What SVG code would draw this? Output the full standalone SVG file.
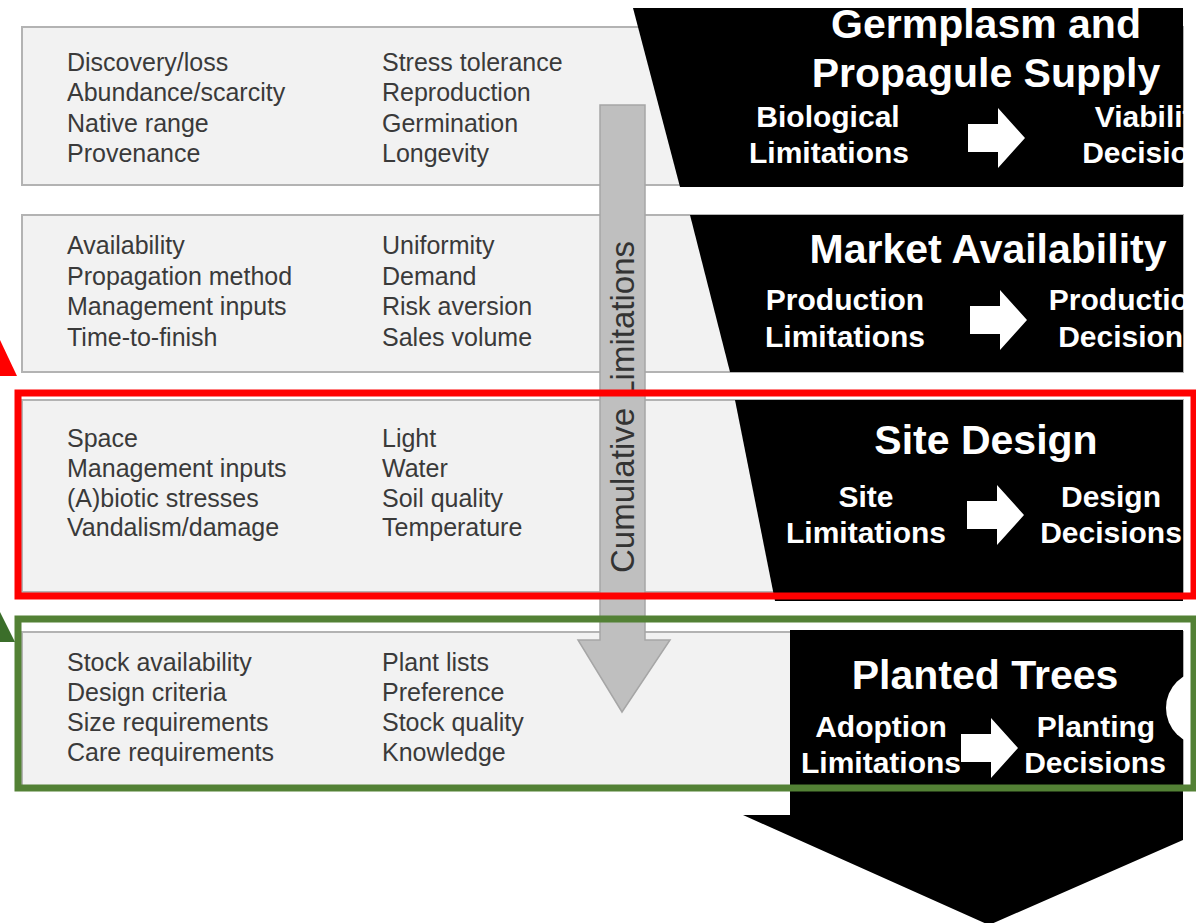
<svg xmlns="http://www.w3.org/2000/svg" width="1196" height="923" viewBox="0 0 1196 923">
  <style>
    .box { fill: #f2f2f2; stroke: #b3b3b3; stroke-width: 2; }
    .blk { fill: #000000; }
    .lst { font-family: "Liberation Sans", Arial, sans-serif; font-size: 25px; fill: #3a3a3a; }
    .ttl { font-family: "Liberation Sans", Arial, sans-serif; font-size: 41px; font-weight: bold; fill: #ffffff; text-anchor: middle; }
    .sub { font-family: "Liberation Sans", Arial, sans-serif; font-size: 30px; font-weight: bold; fill: #ffffff; text-anchor: middle; }
    .cum { font-family: "Liberation Sans", Arial, sans-serif; font-size: 33px; fill: #333333; text-anchor: middle; }
    .warr { fill: #ffffff; }
  </style>
  <defs>
    <path id="wa" d="M0,-14 H30 V-30 L57,0 L30,30 V14 H0 Z"/>
  </defs>
  <rect x="0" y="0" width="1196" height="923" fill="#ffffff"/>

  <g id="row1">
    <rect class="box" x="22" y="27" width="1161" height="158"/>
    <polygon class="blk" points="633,8 1183,8 1183,187 680,187"/>
    <g class="lst">
      <text x="67" y="71">Discovery/loss</text>
      <text x="67" y="101">Abundance/scarcity</text>
      <text x="67" y="132">Native range</text>
      <text x="67" y="162">Provenance</text>
      <text x="382" y="71">Stress tolerance</text>
      <text x="382" y="101">Reproduction</text>
      <text x="382" y="132">Germination</text>
      <text x="382" y="162">Longevity</text>
    </g>
    <text class="ttl" x="986" y="38">Germplasm and</text>
    <text class="ttl" x="986" y="87">Propagule Supply</text>
    <text class="sub" x="828" y="127">Biological</text>
    <text class="sub" x="829" y="163">Limitations</text>
    <use href="#wa" class="warr" x="968" y="138"/>
    <text class="sub" x="1152" y="127">Viability</text>
    <text class="sub" x="1153" y="163">Decisions</text>
  </g>

  <g id="row2">
    <rect class="box" x="22" y="215" width="1161" height="157"/>
    <polygon class="blk" points="690,215 1183,215 1183,372 730,372"/>
    <g class="lst">
      <text x="67" y="254">Availability</text>
      <text x="67" y="285">Propagation method</text>
      <text x="67" y="315">Management inputs</text>
      <text x="67" y="346">Time-to-finish</text>
      <text x="382" y="254">Uniformity</text>
      <text x="382" y="285">Demand</text>
      <text x="382" y="315">Risk aversion</text>
      <text x="382" y="346">Sales volume</text>
    </g>
    <text class="ttl" x="988" y="263">Market Availability</text>
    <text class="sub" x="845" y="310">Production</text>
    <text class="sub" x="845" y="347">Limitations</text>
    <use href="#wa" class="warr" x="970" y="320"/>
    <text class="sub" x="1128" y="310">Production</text>
    <text class="sub" x="1129" y="347">Decisions</text>
  </g>

  <g id="row3">
    <rect class="box" x="22" y="400" width="1161" height="192"/>
    <polygon class="blk" points="735,400 1183,400 1183,601 775,601"/>
    <g class="lst">
      <text x="67" y="447">Space</text>
      <text x="67" y="477">Management inputs</text>
      <text x="67" y="507">(A)biotic stresses</text>
      <text x="67" y="536">Vandalism/damage</text>
      <text x="382" y="447">Light</text>
      <text x="382" y="477">Water</text>
      <text x="382" y="507">Soil quality</text>
      <text x="382" y="536">Temperature</text>
    </g>
    <text class="ttl" x="986" y="454">Site Design</text>
    <text class="sub" x="866" y="507">Site</text>
    <text class="sub" x="866" y="543">Limitations</text>
    <use href="#wa" class="warr" x="967" y="515"/>
    <text class="sub" x="1111" y="507">Design</text>
    <text class="sub" x="1111" y="543">Decisions</text>
  </g>

  <g id="row4">
    <rect class="box" x="22" y="632" width="1161" height="158"/>
    <polygon class="blk" points="790,630 1183,630 1183,840 989,925 743,815 790,815"/>
    <g class="lst">
      <text x="67" y="671">Stock availability</text>
      <text x="67" y="701">Design criteria</text>
      <text x="67" y="731">Size requirements</text>
      <text x="67" y="761">Care requirements</text>
      <text x="382" y="671">Plant lists</text>
      <text x="382" y="701">Preference</text>
      <text x="382" y="731">Stock quality</text>
      <text x="382" y="761">Knowledge</text>
    </g>
    <text class="ttl" x="985" y="689">Planted Trees</text>
    <text class="sub" x="881" y="737">Adoption</text>
    <text class="sub" x="881" y="773">Limitations</text>
    <use href="#wa" class="warr" x="961" y="748"/>
    <text class="sub" x="1096" y="737">Planting</text>
    <text class="sub" x="1095" y="773">Decisions</text>
    <circle cx="1203" cy="708" r="37" fill="#ffffff"/>
  </g>

  <g id="cumulative">
    <polygon points="600,105 645,105 645,640 670,640 622,712 578,640 600,640" fill="#bfbfbf" stroke="#a6a6a6" stroke-width="1.5"/>
    <text class="cum" transform="translate(634,407) rotate(-90)">Cumulative Limitations</text>
  </g>

  <g id="connectors">
    <rect x="18" y="393" width="1176" height="203" fill="none" stroke="#ff0000" stroke-width="7"/>
    <rect x="18" y="619" width="1176" height="169" fill="none" stroke="#538135" stroke-width="7"/>
    <polygon points="0,340 17,376 0,376" fill="#ff0000"/>
    <polygon points="0,612 15,642 0,642" fill="#3b6e2a"/>
  </g>
</svg>
